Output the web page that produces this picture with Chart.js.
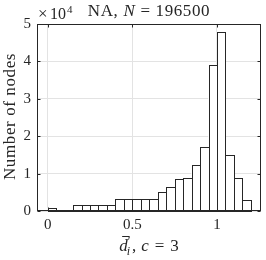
<!DOCTYPE html>
<html>
<head>
<meta charset="utf-8">
<script src="https://cdn.jsdelivr.net/npm/chart.js@4.4.1/dist/chart.umd.min.js"></script>
<style>
  html, body { margin: 0; padding: 0; background: #fff; }
</style>
</head>
<body>
<canvas id="hist" width="266" height="260"></canvas>
<script>
// histogram bins (width 0.05), centres and counts
const binCenters = [0.025, 0.075, 0.125, 0.175, 0.225, 0.275, 0.325, 0.375,
                    0.425, 0.475, 0.525, 0.575, 0.625, 0.675, 0.725, 0.775,
                    0.825, 0.875, 0.925, 0.975, 1.025, 1.075, 1.125, 1.175];
const counts = [800, 150, 150, 1550, 1550, 1550, 1550, 1550,
                3100, 3100, 3100, 3100, 3150, 5150, 6300, 8600,
                8800, 12300, 17200, 39100, 47900, 15000, 8700, 3000];
const xTicks = [0, 0.5, 1];
const yTicks = [0, 10000, 20000, 30000, 40000, 50000];

const AXIS = '#262626';
const SERIF = '"Liberation Serif", "Times New Roman", serif';

// draw a row of text pieces, centred on cx
function drawRuns(ctx, runs, cx, y) {
  let total = 0;
  runs.forEach(r => { ctx.font = r.font; r.w = ctx.measureText(r.t).width; total += r.w + (r.gap || 0); });
  let x = cx - total / 2;
  runs.forEach(r => {
    ctx.font = r.font;
    ctx.fillText(r.t, x, y + (r.dy || 0));
    x += r.w + (r.gap || 0);
  });
}

const annotations = {
  id: 'annotations',
  afterDatasetsDraw(chart) {
    const ctx = chart.ctx;
    const meta = chart.getDatasetMeta(0);
    ctx.save();
    ctx.strokeStyle = AXIS;
    ctx.lineWidth = 1;
    meta.data.forEach(bar => {
      const p = bar.getProps(['x', 'y', 'base', 'width'], true);
      const l = Math.round(p.x - p.width / 2) + 0.5;
      const r = Math.round(p.x + p.width / 2) + 0.5;
      const t = Math.round(p.y) + 0.5;
      const b = Math.round(p.base) + 0.5;
      ctx.strokeRect(l, t, r - l, b - t);
    });
    ctx.restore();
  },
  afterDraw(chart) {
    const ctx = chart.ctx;
    const a = chart.chartArea;
    const xs = chart.scales.x, ys = chart.scales.y;
    const L = Math.round(a.left) + 0.5, R = Math.round(a.right) - 0.5;
    const T = Math.round(a.top) + 0.5, B = Math.round(a.bottom) - 0.5;
    ctx.save();
    // box
    ctx.strokeStyle = AXIS;
    ctx.lineWidth = 1;
    ctx.strokeRect(L, T, R - L, B - T);
    // inward ticks
    ctx.beginPath();
    xTicks.forEach(v => {
      const px = Math.round(xs.getPixelForValue(v)) + 0.5;
      ctx.moveTo(px, B); ctx.lineTo(px, B - 3);
      ctx.moveTo(px, T); ctx.lineTo(px, T + 3);
    });
    yTicks.forEach(v => {
      const py = Math.round(ys.getPixelForValue(v)) + 0.5;
      ctx.moveTo(L, py); ctx.lineTo(L + 3, py);
      ctx.moveTo(R, py); ctx.lineTo(R - 3, py);
    });
    ctx.stroke();

    ctx.fillStyle = AXIS;
    ctx.textBaseline = 'alphabetic';
    ctx.textAlign = 'left';
    ctx.letterSpacing = '0.6px';

    // title
    drawRuns(ctx, [
      { t: 'NA,', font: '17px ' + SERIF, gap: 5 },
      { t: 'N', font: 'italic 17px ' + SERIF, gap: 5 },
      { t: '=', font: '17px ' + SERIF, gap: 5 },
      { t: '196500', font: '17px ' + SERIF }
    ], (a.left + a.right) / 2, 16);

    // exponent label
    ctx.letterSpacing = '0px';
    ctx.font = '17px ' + SERIF;
    ctx.fillText('\u00d7', 38, 19);
    ctx.font = '16px ' + SERIF;
    ctx.fillText('10', 50, 19);
    ctx.font = '11px ' + SERIF;
    ctx.fillText('4', 67, 13);

    // y title
    ctx.letterSpacing = '0.6px';
    ctx.save();
    ctx.translate(15, 116.5);
    ctx.rotate(-Math.PI / 2);
    ctx.textAlign = 'center';
    ctx.font = '17px ' + SERIF;
    ctx.fillText('Number of nodes', 0, 0);
    ctx.restore();

    // x title: d-bar prime sub i, c = 3
    ctx.letterSpacing = '0px';
    const base = 251;
    const big = '17px ' + SERIF, bigI = 'italic 17px ' + SERIF, small = 'italic 12px ' + SERIF;
    ctx.font = bigI; const wd = ctx.measureText('d').width;
    ctx.font = '12px ' + SERIF; const wp = ctx.measureText('\u2032').width;
    ctx.font = small; const wi = ctx.measureText('i').width;
    ctx.font = big; const wc = ctx.measureText(',').width;
    ctx.font = bigI; const wcc = ctx.measureText('c').width;
    ctx.font = big; const weq = ctx.measureText('=').width, w3 = ctx.measureText('3').width;
    const total = wd + Math.max(wp, wi) + 1 + wc + 5 + wcc + 6 + weq + 6 + w3;
    let x = 149 - total / 2;
    ctx.font = bigI; ctx.fillText('d', x, base);
    ctx.beginPath();
    ctx.moveTo(x + 3, base - 14.5); ctx.lineTo(x + wd + 2, base - 14.5);
    ctx.stroke();
    x += wd;
    ctx.font = '12px ' + SERIF; ctx.fillText('\u2032', x, base - 6);
    ctx.font = small; ctx.fillText('i', x - 1, base + 4);
    x += Math.max(wp, wi) + 1;
    ctx.font = big; ctx.fillText(',', x, base); x += wc + 5;
    ctx.font = bigI; ctx.fillText('c', x, base); x += wcc + 6;
    ctx.font = big; ctx.fillText('=', x, base); x += weq + 6;
    ctx.fillText('3', x, base);
    ctx.restore();
  }
};

new Chart(document.getElementById('hist'), {
  type: 'bar',
  data: {
    datasets: [{
      data: binCenters.map((c, i) => ({ x: c, y: counts[i] })),
      backgroundColor: '#ffffff',
      borderWidth: 0,
      barPercentage: 1,
      categoryPercentage: 1
    }]
  },
  options: {
    responsive: false,
    animation: false,
    devicePixelRatio: 1,
    layout: { padding: { top: 24, right: 5, left: 0, bottom: 0 } },
    plugins: { legend: { display: false }, tooltip: { enabled: false } },
    scales: {
      x: {
        type: 'linear',
        offset: false,
        min: -0.063,
        max: 1.26,
        afterBuildTicks: s => { s.ticks = xTicks.map(v => ({ value: v })); },
        afterFit: s => { s.height = 49; },
        grid: { color: '#e3e3e3', drawTicks: false, offset: false },
        border: { display: false },
        ticks: {
          padding: 5,
          color: AXIS,
          font: { family: SERIF, size: 15 },
          maxRotation: 0,
          callback: v => String(v)
        }
      },
      y: {
        min: 0,
        max: 50000,
        afterBuildTicks: s => { s.ticks = yTicks.map(v => ({ value: v })); },
        afterFit: s => { s.width = 37; },
        grid: { color: '#e3e3e3', drawTicks: false },
        border: { display: false },
        ticks: {
          padding: 6,
          color: AXIS,
          font: { family: SERIF, size: 15 },
          callback: v => String(v / 10000)
        }
      }
    }
  },
  plugins: [annotations]
});
</script>
</body>
</html>
